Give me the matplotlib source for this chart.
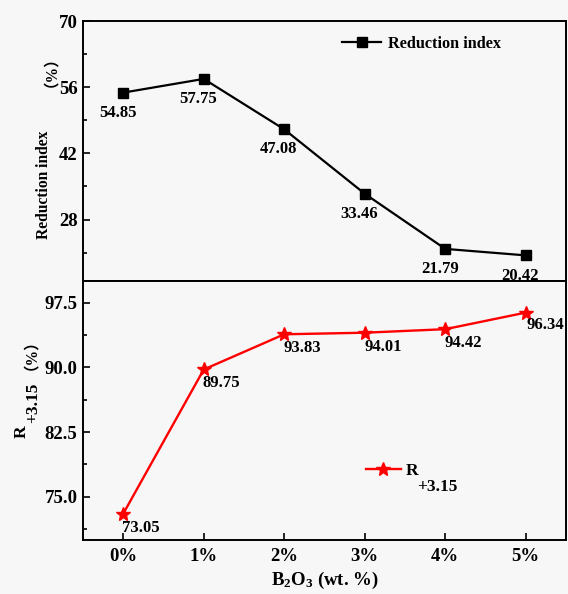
import matplotlib
matplotlib.use("Agg")
import matplotlib.pyplot as plt
from matplotlib.ticker import MultipleLocator

plt.rcParams['font.family'] = ['Liberation Serif', 'Noto Sans CJK SC']
plt.rcParams['font.weight'] = 'bold'
plt.rcParams['mathtext.fontset'] = 'custom'
plt.rcParams['mathtext.rm'] = 'Liberation Serif:bold'
plt.rcParams['mathtext.bf'] = 'Liberation Serif:bold'
plt.rcParams['mathtext.it'] = 'Liberation Serif:bold'

categories = ['0%', '1%', '2%', '3%', '4%', '5%']
reduction_index = [54.85, 57.75, 47.08, 33.46, 21.79, 20.42]
r315 = [73.05, 89.75, 93.83, 94.01, 94.42, 96.34]
top_ticks = [28, 42, 56, 70]
bottom_ticks = [75.0, 82.5, 90.0, 97.5]

W, H = 568, 594
bg = '#f7f7f7'
fig = plt.figure(figsize=(W/100, H/100), dpi=100, facecolor=bg)
L, R = 83/W, 566/W
ax1 = fig.add_axes([L, 1-281/H, R-L, (281-21)/H], facecolor=bg)
ax2 = fig.add_axes([L, 1-540/H, R-L, (540-281)/H], facecolor=bg, sharex=ax1)

def px(xp, yp):
    return xp / W, 1 - yp / H

x = list(range(len(categories)))
ax1.plot(x, reduction_index, color='black', lw=1.6, marker='s', ms=6.5,
         label='Reduction index')
ax2.plot(x, r315, color='red', lw=1.7, marker='*', ms=10, label='R')

for xi, v in zip(x, reduction_index):
    ax1.annotate(f'{v:.2f}', (xi, v), xytext=(-4, -14.5), textcoords='offset points',
                 ha='center', va='center', fontsize=12, fontweight='bold')
for xi, v in zip(x, r315):
    off = (14, -9) if xi == 5 else (13, -10)
    ax2.annotate(f'{v:.2f}', (xi, v), xytext=off, textcoords='offset points',
                 ha='center', va='center', fontsize=12, fontweight='bold')

ax1.set_ylim(15, 70)
ax1.set_yticks(top_ticks)
ax1.yaxis.set_minor_locator(MultipleLocator(7))
ax2.set_ylim(70, 100)
ax2.set_yticks(bottom_ticks)
ax2.set_yticklabels([f'{t:.1f}' for t in bottom_ticks])
ax2.yaxis.set_minor_locator(MultipleLocator(3.75))
ax2.set_xlim(-0.5, 5.5)
ax2.set_xticks(x)
ax2.set_xticklabels(categories)

for ax in (ax1, ax2):
    for s in ax.spines.values():
        s.set_linewidth(1.4)
    ax.tick_params(axis='both', which='both', direction='in', labelsize=13.5, width=1.2)
    ax.tick_params(which='major', length=5)
    ax.tick_params(which='minor', length=3)
    ax.tick_params(axis='y', pad=4)
    for lab in ax.get_yticklabels() + ax.get_xticklabels():
        lab.set_fontweight('bold')
ax1.tick_params(axis='x', which='both', bottom=False, labelbottom=False)
ax2.tick_params(axis='x', pad=6)

fig.legend(handles=ax1.get_lines(), loc='center left',
           bbox_to_anchor=px(342, 44), frameon=False,
           prop={'size': 11.7, 'weight': 'bold'}, handlelength=2.4,
           handletextpad=0.4, borderpad=0, borderaxespad=0)
fig.legend(handles=ax2.get_lines(), loc='center left',
           bbox_to_anchor=px(366, 471), frameon=False,
           prop={'size': 12.5, 'weight': 'bold'}, handlelength=2.0,
           handletextpad=0.3, borderpad=0, borderaxespad=0)
fig.text(*px(417, 487), '+3.15', ha='left', va='center', fontsize=12.5,
         fontweight='bold')

# y labels
fig.text(*px(44, 185), 'Reduction index', rotation=90, ha='center', va='center',
         fontsize=11.2, fontweight='bold')
fig.text(*px(43, 64), '（%）', rotation=90, ha='center', va='center',
         fontsize=11.2, fontweight='bold')
fig.text(*px(22, 432), 'R', rotation=90, ha='center', va='center',
         fontsize=12.5, fontweight='bold')
fig.text(*px(33, 403), '+3.15', rotation=90, ha='center', va='center',
         fontsize=12.5, fontweight='bold')
fig.text(*px(23, 347), '（%）', rotation=90, ha='center', va='center',
         fontsize=11.2, fontweight='bold')

# x label
fig.text(*px(325, 580), r'B$_{\mathbf{2}}$O$_{\mathbf{3}}$ (wt. %)', ha='center',
         va='center', fontsize=13.5, fontweight='bold')

fig.savefig('out.png', dpi=100, facecolor=bg)
